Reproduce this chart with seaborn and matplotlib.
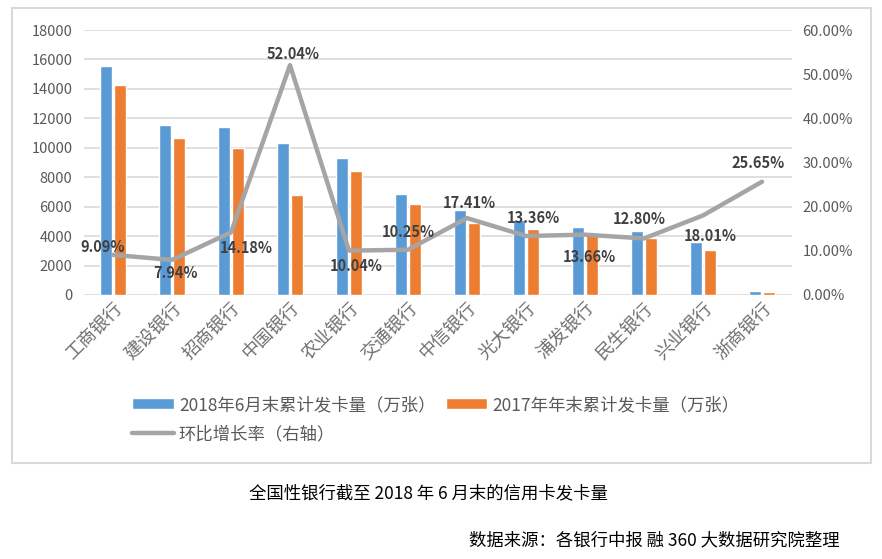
import pandas as pd
import matplotlib
matplotlib.use("Agg")
import matplotlib.pyplot as plt
from matplotlib.patches import Rectangle
import seaborn as sns

sns.set_theme(style="white")
plt.rcParams["font.family"] = ["Noto Sans CJK SC", "DejaVu Sans"]

# data
BANKS = ["工商银行", "建设银行", "招商银行", "中国银行", "农业银行", "交通银行",
         "中信银行", "光大银行", "浦发银行", "民生银行", "兴业银行", "浙商银行"]
CARDS_2018H1 = [15550, 11550, 11410, 10320, 9300, 6860, 5780, 5080, 4620, 4350, 3620, 270]
CARDS_2017 = [14260, 10690, 10000, 6790, 8420, 6180, 4920, 4480, 4060, 3860, 3070, 215]
GROWTH = [9.09, 7.94, 14.18, 52.04, 10.04, 10.25, 17.41, 13.36, 13.66, 12.80, 18.01, 25.65]
SERIES = ["2018年6月末累计发卡量（万张）", "2017年年末累计发卡量（万张）"]
LINE_LABEL = "环比增长率（右轴）"

# where each % label sits relative to its point (pixels, x right / y up)
LABEL_OFFSETS = [(-10, 8), (3, -13), (15, -16), (3, 11), (7, -15), (0, 18),
                 (2, 15), (7, 18), (4, -22), (-5, 19), (7, -21), (-4, 19)]

BLUE, ORANGE, GRAY = "#5B9BD5", "#ED7D31", "#A5A5A5"
TXT = "#595959"

df = pd.DataFrame({
    "bank": BANKS * 2,
    "cards": CARDS_2018H1 + CARDS_2017,
    "period": [SERIES[0]] * len(BANKS) + [SERIES[1]] * len(BANKS),
})

fig = plt.figure(figsize=(8.82, 5.59), dpi=100)
ax = fig.add_axes([83.5 / 882, 1 - 295 / 559, 708 / 882, 265 / 559])

sns.barplot(data=df, x="bank", y="cards", hue="period", order=BANKS, hue_order=SERIES,
            palette=[BLUE, ORANGE], width=0.5, gap=0.2, saturation=1, ax=ax)
bar_handles, bar_labels = ax.get_legend_handles_labels()
ax.get_legend().remove()

ax.set_xlim(-0.5, len(BANKS) - 0.5)
ax.set_ylim(0, 18000)
ax.set_yticks(range(0, 18001, 2000))
ax.yaxis.grid(True, color="#D9D9D9", linewidth=1.2)
ax.set_axisbelow(True)
ax.set_xlabel(""); ax.set_ylabel("")
ax.tick_params(axis="y", length=0, pad=8, labelsize=10.5, labelcolor=TXT)
ax.tick_params(axis="x", length=0, pad=3, labelsize=13, labelcolor="#6F6F6F")
for lab in ax.get_xticklabels():
    lab.set_rotation(45)
    lab.set_ha("right")
    lab.set_rotation_mode("anchor")
    lab.set_fontweight("light")
for s in ax.spines.values():
    s.set_visible(False)

ax2 = ax.twinx()
line, = ax2.plot(range(len(BANKS)), GROWTH, color=GRAY, linewidth=3.2, label=LINE_LABEL)
ax2.set_ylim(0, 60)
ax2.set_yticks(range(0, 61, 10))
ax2.set_yticklabels([f"{t:.2f}%" for t in range(0, 61, 10)])
ax2.tick_params(axis="y", length=0, pad=8, labelsize=10.5, labelcolor=TXT)
ax2.grid(False)
for s in ax2.spines.values():
    s.set_visible(False)

for i, v in enumerate(GROWTH):
    dx, dy = LABEL_OFFSETS[i]
    ax2.annotate(f"{v:.2f}%", (i, v), xytext=(dx * 0.72, dy * 0.72), textcoords="offset points",
                 ha="center", va="center", fontsize=10.5, fontweight="bold", color="#404040")

fig.legend(handles=[bar_handles[0], line, bar_handles[1]],
           labels=[bar_labels[0], LINE_LABEL, bar_labels[1]],
           ncol=2, loc="upper left", bbox_to_anchor=(132 / 882, 1 - 396 / 559),
           frameon=False, fontsize=12.5, labelcolor=TXT, borderpad=0, borderaxespad=0,
           handlelength=2.4, handleheight=0.6, handletextpad=0.3,
           labelspacing=0.65, columnspacing=0.6)

fig.patches.append(Rectangle((12 / 882, 1 - 463 / 559), 859 / 882, 455 / 559,
                             transform=fig.transFigure, fill=False,
                             edgecolor="#D9D9D9", linewidth=1.5))

fig.text(428 / 882, 1 - 493 / 559, "全国性银行截至 2018 年 6 月末的信用卡发卡量",
         ha="center", va="center", fontsize=12.5, color="black")
fig.text(840 / 882, 1 - 540 / 559, "数据来源：各银行中报 融 360 大数据研究院整理",
         ha="right", va="center", fontsize=12.5, color="black")

fig.savefig("out.png", dpi=100)
